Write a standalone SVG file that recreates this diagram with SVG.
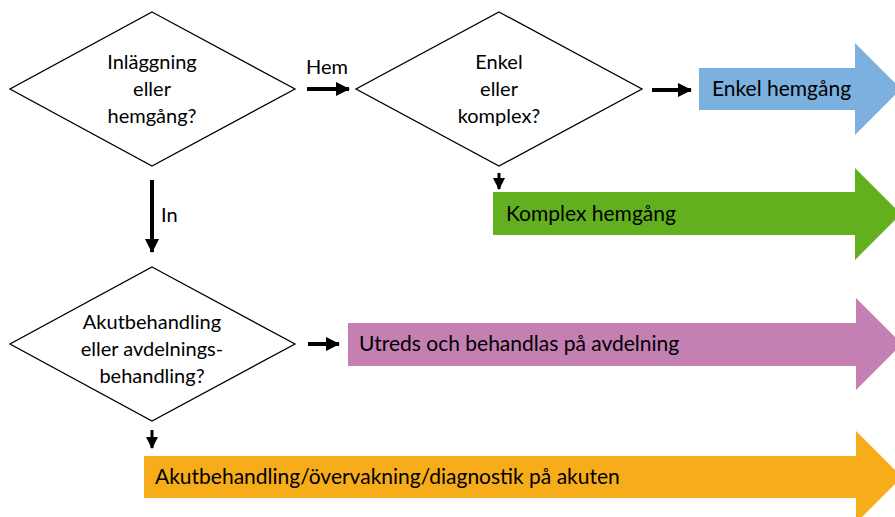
<svg xmlns="http://www.w3.org/2000/svg" width="895" height="517" viewBox="0 0 895 517">
<defs>
<style>
.dia{fill:#fff;stroke:#000;stroke-width:1.3}
.t{font-family:Lato,"Liberation Sans",sans-serif;font-size:20px;fill:#000}
.b{font-size:21px}
.c{text-anchor:middle}
.con{stroke:#000;stroke-width:4;fill:none}
.ah{fill:#000}
</style>
<marker id="ah" markerUnits="userSpaceOnUse" markerWidth="14" markerHeight="14" viewBox="0 0 14 14" refX="13" refY="7" orient="auto">
<path class="ah" d="M0,0 L14,7 L0,14 Z"/>
</marker>
<marker id="ahs" markerUnits="userSpaceOnUse" markerWidth="12" markerHeight="12" viewBox="0 0 12 12" refX="11" refY="6" orient="auto">
<path class="ah" d="M0,0 L12,6 L0,12 Z"/>
</marker>
</defs>
<rect width="895" height="517" fill="#fff"/>

<g id="d1">
<polygon class="dia" points="152,12 295,89 152,166 10,89"/>
<text class="t c" x="152" y="69">Inläggning</text>
<text class="t c" x="152" y="96">eller</text>
<text class="t c" x="152" y="123">hemgång?</text>
</g>

<g id="d2">
<polygon class="dia" points="499,12 642,89 499,166 356,89"/>
<text class="t c" x="499" y="69">Enkel</text>
<text class="t c" x="499" y="96">eller</text>
<text class="t c" x="499" y="123">komplex?</text>
</g>

<g id="d3">
<polygon class="dia" points="152,267 295,344 152,421 10,344"/>
<text class="t c" x="152" y="329">Akutbehandling</text>
<text class="t c" x="152" y="356">eller avdelnings-</text>
<text class="t c" x="152" y="383">behandling?</text>
</g>

<g id="enkel">
<polygon fill="#7BB0DF" points="699,68 855,68 855,43 901,89 855,135 855,110 699,110"/>
<text class="t b" x="712" y="96">Enkel hemgång</text>
</g>

<g id="komplex">
<polygon fill="#62B01E" points="493,192 855,192 855,168 901,214 855,260 855,235 493,235"/>
<text class="t b" x="506" y="221">Komplex hemgång</text>
</g>

<g id="avdelning">
<polygon fill="#C47FB3" points="348,323 856,323 856,298 902,344 856,390 856,366 348,366"/>
<text class="t b" x="359" y="351">Utreds och behandlas på avdelning</text>
</g>

<g id="akuten">
<polygon fill="#F7AD19" points="144,456 856,456 856,431 902,477 856,523 856,498 144,498"/>
<text class="t b" x="155" y="484">Akutbehandling/övervakning/diagnostik på akuten</text>
</g>

<g id="connectors">
<line class="con" x1="307" y1="89" x2="349" y2="89" marker-end="url(#ah)"/>
<text class="t" x="306" y="74">Hem</text>
<line class="con" x1="652" y1="90" x2="691" y2="90" marker-end="url(#ah)"/>
<line class="con" x1="152" y1="180" x2="152" y2="252" marker-end="url(#ah)"/>
<text class="t" x="161" y="222">In</text>
<line class="con" x1="308" y1="344" x2="339" y2="344" marker-end="url(#ah)"/>
<line class="con" style="stroke-width:3" x1="499" y1="173" x2="499" y2="189" marker-end="url(#ahs)"/>
<line class="con" style="stroke-width:3" x1="152" y1="430" x2="152" y2="448" marker-end="url(#ahs)"/>
</g>
</svg>
